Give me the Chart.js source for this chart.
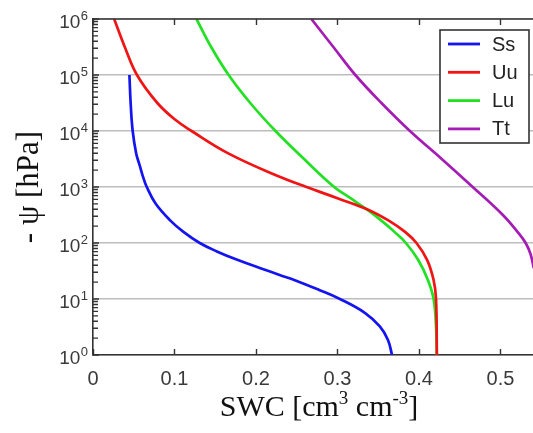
<!DOCTYPE html>
<html>
<head>
<meta charset="utf-8">
<script src="https://cdn.jsdelivr.net/npm/chart.js@4.4.1/dist/chart.umd.min.js"></script>
<style>
  html, body { margin: 0; padding: 0; background: #ffffff; }
  #wrap { width: 533px; height: 433px; }
</style>
</head>
<body>
<div id="wrap"><canvas id="c" width="533" height="433"></canvas></div>
<script>
// Water retention curves: suction (hPa) against soil water content (cm3/cm3)
const seriesNames = ['Ss', 'Uu', 'Lu', 'Tt'];
const seriesColors = ['#1414f0', '#f01414', '#22e022', '#a41cb4'];

const ssSWC = [0.0447, 0.0462, 0.0487, 0.053, 0.057, 0.061, 0.066, 0.077, 0.095, 0.111, 0.131, 0.152, 0.177, 0.2055, 0.229, 0.247, 0.2775, 0.303, 0.334, 0.352, 0.362, 0.367];
const ssPsi = [1e5, 31623, 1e4, 3981, 2512, 1585, 1e3, 501, 251, 158, 100, 70.8, 50.1, 35.5, 26.9, 21.9, 14.5, 10, 5.62, 3.24, 1.86, 1];

const uuSWC = [0.026, 0.039, 0.054, 0.079, 0.101, 0.121, 0.166, 0.226, 0.262, 0.300, 0.337, 0.363, 0.383, 0.397, 0.410, 0.418, 0.421, 0.422];
const uuPsi = [1e6, 316228, 1e5, 31623, 15849, 1e4, 3981, 1585, 1e3, 631, 398, 251, 158, 100, 50.1, 21.9, 10, 1];

const luSWC = [0.127, 0.145, 0.1665, 0.193, 0.224, 0.259, 0.296, 0.316, 0.336, 0.354, 0.370, 0.384, 0.399, 0.411, 0.418, 0.421, 0.422];
const luPsi = [1e6, 316228, 1e5, 31623, 1e4, 3162, 1e3, 631, 398, 251, 158, 100, 50.1, 21.9, 10, 3.16, 1];

const ttSWC = [0.268, 0.295, 0.322, 0.354, 0.389, 0.428, 0.466, 0.503, 0.521, 0.531, 0.537, 0.541];
const ttPsi = [1e6, 316228, 1e5, 31623, 1e4, 3162, 1e3, 316, 158, 100, 63.1, 35.5];

const xTicks = [0, 0.1, 0.2, 0.3, 0.4, 0.5];
const yTicks = [1, 10, 100, 1000, 10000, 100000, 1000000];
const yTickExponents = ['0', '1', '2', '3', '4', '5', '6'];

const xTitleParts = [['SWC [cm', false], ['3', true], [' cm', false], ['-3', true], [']', false]];
const yTitle = '- ψ [hPa]';

const swcSets = [ssSWC, uuSWC, luSWC, ttSWC];
const psiSets = [ssPsi, uuPsi, luPsi, ttPsi];

const datasets = seriesNames.map((name, i) => ({
  label: name,
  data: swcSets[i].map((x, k) => ({ x: x, y: psiSets[i][k] })),
  borderColor: seriesColors[i],
  backgroundColor: seriesColors[i],
  borderWidth: 2.7,
  pointRadius: 0,
  showLine: true,
  fill: false,
  tension: 0.4
}));

const AXIS = '#333333';
const SANS = '"Liberation Sans", Arial, sans-serif';
const SERIF = '"Liberation Serif", "Times New Roman", serif';

// Frame, inward ticks, power-of-ten labels, axis titles and the boxed legend
const framePlugin = {
  id: 'frame',
  afterDatasetsDraw(chart) {
    const ctx = chart.ctx;
    const a = chart.chartArea;
    const xs = chart.scales.x, ys = chart.scales.y;
    ctx.save();
    ctx.strokeStyle = AXIS;
    ctx.lineWidth = 1.6;
    ctx.beginPath();
    ctx.moveTo(a.left, a.top);
    ctx.lineTo(a.right, a.top);
    ctx.stroke();
    ctx.lineWidth = 1.4;
    ctx.beginPath();
    xTicks.forEach(v => {
      const px = Math.round(xs.getPixelForValue(v)) + 0.5;
      ctx.moveTo(px, a.bottom); ctx.lineTo(px, a.bottom - 6);
      ctx.moveTo(px, a.top); ctx.lineTo(px, a.top + 6);
    });
    for (let d = 0; d < yTicks.length; d++) {
      const base = yTicks[d];
      const py = ys.getPixelForValue(base);
      ctx.moveTo(a.left, py); ctx.lineTo(a.left + 6, py);
      if (d < yTicks.length - 1) {
        for (let m = 2; m <= 9; m++) {
          const q = ys.getPixelForValue(base * m);
          ctx.moveTo(a.left, q); ctx.lineTo(a.left + 5, q);
        }
      }
    }
    ctx.stroke();

    // y tick labels as 10 with a raised exponent
    ctx.fillStyle = '#3a3a3a';
    ctx.textBaseline = 'alphabetic';
    yTicks.forEach((v, i) => {
      const py = ys.getPixelForValue(v);
      ctx.font = '13px ' + SANS;
      const ew = ctx.measureText(yTickExponents[i]).width;
      ctx.textAlign = 'right';
      ctx.fillText(yTickExponents[i], 88, py + 0.5);
      ctx.font = '19px ' + SANS;
      ctx.fillText('10', 88 - ew - 0.5, py + 8.5);
    });

    // x axis title with superscripts
    const big = '30px ' + SERIF, small = '19px ' + SERIF;
    let total = 0;
    xTitleParts.forEach(([t, sup]) => { ctx.font = sup ? small : big; total += ctx.measureText(t).width; });
    let x = 319 - total / 2;
    ctx.fillStyle = '#111111';
    ctx.textAlign = 'left';
    xTitleParts.forEach(([t, sup]) => {
      ctx.font = sup ? small : big;
      ctx.fillText(t, x, sup ? 404 : 416);
      x += ctx.measureText(t).width;
    });

    // y axis title, rotated
    ctx.save();
    ctx.translate(38, 187);
    ctx.rotate(-Math.PI / 2);
    ctx.font = '31px ' + SERIF;
    ctx.textAlign = 'center';
    ctx.fillText(yTitle, 0, 0);
    ctx.restore();
    ctx.restore();
  },
  afterDraw(chart) {
    const ctx = chart.ctx;
    const bx = 440, by = 30, bw = 89, bh = 113;
    ctx.save();
    ctx.fillStyle = '#ffffff';
    ctx.fillRect(bx, by, bw, bh);
    ctx.strokeStyle = AXIS;
    ctx.lineWidth = 1.6;
    ctx.strokeRect(bx, by, bw, bh);
    ctx.font = '20px ' + SANS;
    ctx.textBaseline = 'middle';
    ctx.textAlign = 'left';
    chart.data.datasets.forEach((ds, i) => {
      const y = by + 14 + i * 28.3;
      ctx.strokeStyle = ds.borderColor;
      ctx.lineWidth = 2.8;
      ctx.beginPath();
      ctx.moveTo(bx + 8, y); ctx.lineTo(bx + 40, y);
      ctx.stroke();
      ctx.fillStyle = '#222222';
      ctx.fillText(ds.label, bx + 52, y + 1);
    });
    ctx.restore();
  }
};

new Chart(document.getElementById('c'), {
  type: 'scatter',
  data: { datasets: datasets },
  plugins: [framePlugin],
  options: {
    responsive: false,
    animation: false,
    devicePixelRatio: 1,
    layout: { padding: { top: 19, right: 0, bottom: 0, left: 0 } },
    plugins: { legend: { display: false }, tooltip: { enabled: false } },
    scales: {
      x: {
        type: 'linear',
        position: 'bottom',
        min: 0,
        max: 0.54,
        afterBuildTicks: s => { s.ticks = xTicks.map(v => ({ value: v })); },
        afterFit: s => { s.height = 78; },
        grid: { display: false, drawTicks: false },
        border: { display: true, color: AXIS, width: 1.6 },
        ticks: {
          padding: 12,
          color: '#3a3a3a',
          font: { family: SANS, size: 20 },
          callback: v => String(v)
        }
      },
      y: {
        type: 'logarithmic',
        position: 'left',
        min: 1,
        max: 1e6,
        afterBuildTicks: s => { s.ticks = yTicks.map(v => ({ value: v })); },
        afterFit: s => { s.width = 93; },
        grid: { color: '#bdbdbd', lineWidth: 1.6, drawTicks: false },
        border: { display: true, color: AXIS, width: 1.6 },
        ticks: { display: false }
      }
    }
  }
});
</script>
</body>
</html>
